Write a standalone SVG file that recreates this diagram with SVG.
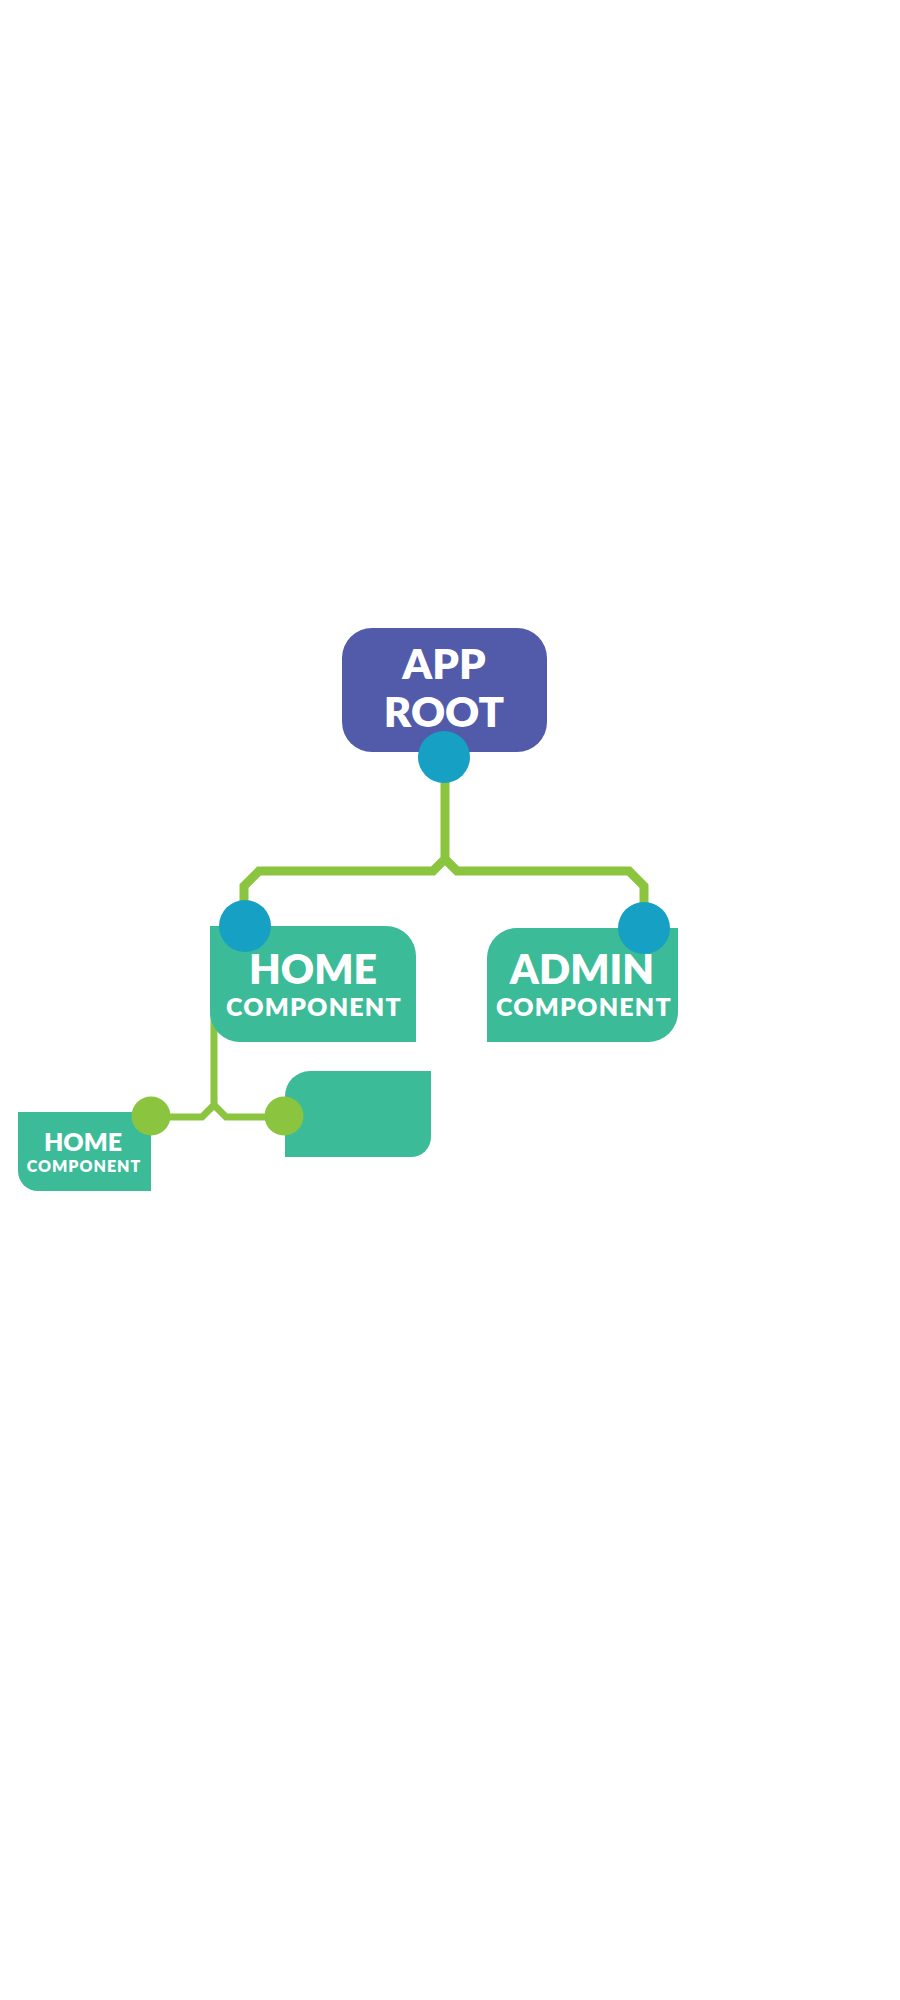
<svg xmlns="http://www.w3.org/2000/svg" width="900" height="2000" viewBox="0 0 900 2000">
<style>
.line{fill:none;stroke:#8BC540;stroke-width:9;stroke-linejoin:miter}
.line2{fill:none;stroke:#8BC540;stroke-width:7;stroke-linejoin:miter}
.comp{fill:#3BBB98}
.blue{fill:#16A1C4}
.gdot{fill:#8BC540}
.t{font-family:Lato,"Liberation Sans",sans-serif;font-weight:800;fill:#FFFFFF;text-anchor:middle}
.sub{letter-spacing:1.2px}
.sub2{letter-spacing:1px}
</style>
<rect width="900" height="2000" fill="#FFFFFF"/>
<g id="connectors">
<path class="line" d="M445,770 V859 L433,871 H259 L244,886 V925"/>
<path class="line" d="M445,859 L457,871 H629 L644,886 V925"/>
<path class="line2" d="M214,1000 V1105 L202,1117 H150"/>
<path class="line2" d="M214,1105 L226,1117 H285"/>
</g>
<g id="app-root">
<rect x="342" y="628" width="205" height="124" rx="30" fill="#525BA9"/>
<text class="t" x="444" y="679" font-size="42">APP</text>
<text class="t" x="444" y="727" font-size="42">ROOT</text>
<circle class="blue" cx="444" cy="757" r="26"/>
</g>
<g id="home-component">
<path class="comp" d="M210,926 H386 A30,30 0 0 1 416,956 V1042 H240 A30,30 0 0 1 210,1012 Z"/>
<text class="t" x="313" y="984" font-size="41">HOME</text>
<text class="t sub" x="314" y="1016" font-size="25">COMPONENT</text>
<circle class="blue" cx="245" cy="926" r="26"/>
</g>
<g id="admin-component">
<path class="comp" d="M517,928 H678 V1012 A30,30 0 0 1 648,1042 H487 V958 A30,30 0 0 1 517,928 Z"/>
<text class="t" x="582" y="984" font-size="41">ADMIN</text>
<text class="t sub" x="584" y="1016" font-size="25">COMPONENT</text>
<circle class="blue" cx="644" cy="928" r="26"/>
</g>
<g id="home-component-small">
<path class="comp" d="M18,1112 H151 V1191 H38 A20,20 0 0 1 18,1171 Z"/>
<text class="t" x="83" y="1151" font-size="25">HOME</text>
<text class="t sub2" x="84" y="1172" font-size="16">COMPONENT</text>
<circle class="gdot" cx="151" cy="1116" r="19.5"/>
</g>
<g id="empty-component">
<path class="comp" d="M310,1071 H431 V1137 A20,20 0 0 1 411,1157 H285 V1096 A25,25 0 0 1 310,1071 Z"/>
<circle class="gdot" cx="284" cy="1116" r="19.5"/>
</g>
</svg>
